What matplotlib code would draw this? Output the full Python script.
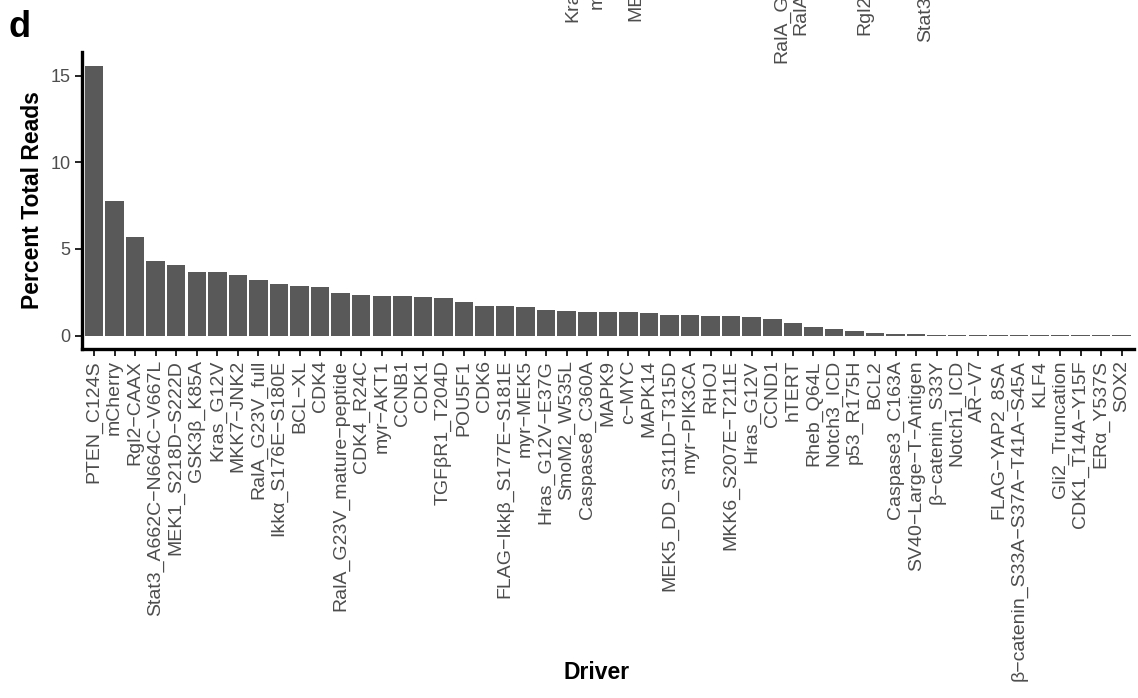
import numpy as np
import matplotlib.pyplot as plt

plt.rcParams['font.family'] = ['Liberation Sans', 'DejaVu Sans']

# =========================
# Доля прочтений по драйверам (панель d)
# =========================

drivers = [
    'PTEN_C124S', 'mCherry', 'Rgl2−CAAX', 'Stat3_A662C−N664C−V667L',
    'MEK1_S218D−S222D', 'GSK3β_K85A', 'Kras_G12V', 'MKK7−JNK2',
    'RalA_G23V_full', 'Ikkα_S176E−S180E', 'BCL−XL', 'CDK4',
    'RalA_G23V_mature−peptide', 'CDK4_R24C', 'myr−AKT1', 'CCNB1', 'CDK1',
    'TGFβR1_T204D', 'POU5F1', 'CDK6', 'FLAG−Ikkβ_S177E−S181E', 'myr−MEK5',
    'Hras_G12V−E37G', 'SmoM2_W535L', 'Caspase8_C360A', 'MAPK9', 'c−MYC',
    'MAPK14', 'MEK5_DD_S311D−T315D', 'myr−PIK3CA', 'RHOJ',
    'MKK6_S207E−T211E', 'Hras_G12V', 'CCND1', 'hTERT', 'Rheb_Q64L',
    'Notch3_ICD', 'p53_R175H', 'BCL2', 'Caspase3_C163A',
    'SV40−Large−T−Antigen', 'β−catenin_S33Y', 'Notch1_ICD', 'AR−V7',
    'FLAG−YAP2_8SA', 'β−catenin_S33A−S37A−T41A−S45A', 'KLF4',
    'Gli2_Truncation', 'CDK1_T14A−Y15F', 'ERα_Y537S', 'SOX2',
]

percent_reads = [
    15.58, 7.77, 5.67, 4.30, 4.05, 3.66, 3.65, 3.49, 3.18, 2.99, 2.83,
    2.78, 2.43, 2.33, 2.28, 2.27, 2.24, 2.16, 1.93, 1.72, 1.68, 1.66,
    1.45, 1.39, 1.37, 1.37, 1.37, 1.31, 1.16, 1.16, 1.14, 1.10, 1.06,
    0.95, 0.75, 0.50, 0.35, 0.27, 0.17, 0.07, 0.06, 0.04, 0.03, 0.03,
    0.02, 0.02, 0.01, 0.01, 0.01, 0.01, 0.01,
]

# подписи верхней панели, которые попадают в кадр обрезанными
upper_labels = ['Kras_G12V', 'mCherry', 'MEK1_S218D−S222D',
                'RalA_G23V_mature−peptide', 'RalA_G23V_full',
                'Rgl2−CAAX', 'Stat3_A662C−N664C−V667L']
upper_x = [573, 597, 636, 782, 801, 865, 926]
upper_bottom = [22, 9, 21, 63, 35, 35, 42]

W, H = 1138, 698
fig = plt.figure(figsize=(W / 100, H / 100), dpi=100)
ax = fig.add_axes([81.7 / W, 1 - 349 / H, (1134 - 81.7) / W, (349 - 52) / H])

x = np.arange(len(drivers))
ax.bar(x, percent_reads, width=0.9, color='#595959')

ymax = max(percent_reads)
ax.set_ylim(-0.05 * ymax, 1.05 * ymax)
ax.set_xlim(-0.6, len(drivers) - 0.4)

ax.set_yticks([0, 5, 10, 15])
ax.set_xticks(x)
ax.set_xticklabels(drivers, rotation=90, fontsize=14, color='#4d4d4d')
ax.tick_params(axis='y', labelsize=13, labelcolor='#4d4d4d')
ax.tick_params(length=5, width=1.2, color='black', pad=3)

for side in ['top', 'right']:
    ax.spines[side].set_visible(False)
for side in ['left', 'bottom']:
    ax.spines[side].set_linewidth(2.4)

ax.set_ylabel('Percent Total Reads', fontsize=16.5, fontweight='bold')
ax.yaxis.set_label_coords(-0.036, 0.5)
ax.set_xlabel('Driver', fontsize=16.5, fontweight='bold')
ax.xaxis.set_label_coords(0.489, -1.05)

fig.text(8 / W, 1 - 37 / H, 'd', fontsize=26, fontweight='bold',
         ha='left', va='baseline')

for lab, ux, ub in zip(upper_labels, upper_x, upper_bottom):
    fig.text(ux / W, 1 - ub / H, lab, rotation=90, ha='center', va='bottom',
             fontsize=14, color='#4d4d4d')

plt.savefig('out.png', dpi=100)
